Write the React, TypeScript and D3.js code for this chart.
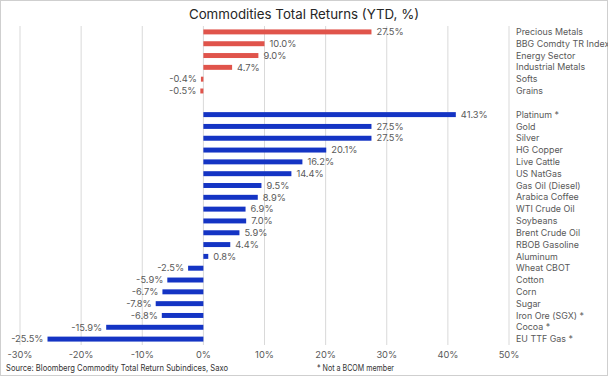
import React from "react";
import * as d3 from "d3";

const topCategories = ["Precious Metals", "BBG Comdty TR Index", "Energy Sector", "Industrial Metals", "Softs", "Grains"];
const topValues = [27.5, 10.0, 9.0, 4.7, -0.4, -0.5];

const commodityCategories = [
  "Platinum *", "Gold", "Silver", "HG Copper", "Live Cattle", "US NatGas", "Gas Oil (Diesel)",
  "Arabica Coffee", "WTI Crude Oil", "Soybeans", "Brent Crude Oil", "RBOB Gasoline", "Aluminum",
  "Wheat CBOT", "Cotton", "Corn", "Sugar", "Iron Ore (SGX) *", "Cocoa *", "EU TTF Gas *",
];
const commodityValues = [41.3, 27.5, 27.5, 20.1, 16.2, 14.4, 9.5, 8.9, 6.9, 7.0, 5.9, 4.4, 0.8, -2.5, -5.9, -6.7, -7.8, -6.8, -15.9, -25.5];

const xTicks = [-30, -20, -10, 0, 10, 20, 30, 40, 50];

const title = "Commodities Total Returns (YTD, %)";
const sourceText = "Source: Bloomberg Commodity Total Return Subindices, Saxo";
const noteText = "* Not a BCOM member";

const W = 608;
const H = 376;
const FONT = "Inter, 'Open Sans', sans-serif";

export default function App() {
  const spacer = "__gap__";
  const domain = [...topCategories, spacer, ...commodityCategories];
  const x = d3.scaleLinear().domain([-30, 50]).range([20, 509]);
  const y = d3.scaleBand<string>().domain(domain).range([26, 345]).paddingInner(0.58).paddingOuter(0.29);

  const rows = [
    ...topCategories.map((c, i) => ({ c, v: topValues[i], color: "#e0544b" })),
    ...commodityCategories.map((c, i) => ({ c, v: commodityValues[i], color: "#1434c4" })),
  ];
  const fmt = (v: number) => `${v.toFixed(1)}%`;

  return (
    <svg width={W} height={H} style={{ position: "absolute", left: 0, top: 0, display: "block" }} fontFamily={FONT}>
      <rect x={0} y={0} width={W} height={H} fill="#ffffff" />
      <rect x={0.5} y={0.5} width={W - 1} height={H - 1} fill="none" stroke="#cfcfcf" />
      <text x={304} y={19} textAnchor="middle" fontSize={13.3} fill="#262626">{title}</text>
      {xTicks.map((t) => (
        <g key={t}>
          <line x1={x(t)} x2={x(t)} y1={26} y2={345} stroke="#d9d9d9" strokeWidth={1} />
          <text x={x(t)} y={358} textAnchor="middle" fontSize={9.3} fill="#595959">{`${t}%`}</text>
        </g>
      ))}
      {rows.map((r) => {
        const yy = y(r.c)!;
        const bh = y.bandwidth();
        const x0 = x(Math.min(0, r.v));
        const x1 = x(Math.max(0, r.v));
        const cy = yy + bh / 2;
        return (
          <g key={r.c}>
            <rect x={x0} y={yy} width={Math.max(1.5, x1 - x0)} height={bh} fill={r.color} />
            <text
              x={r.v >= 0 ? x1 + 5 : x0 - 4}
              y={cy}
              dy="0.35em"
              textAnchor={r.v >= 0 ? "start" : "end"}
              fontSize={9.3}
              fill="#595959"
            >
              {fmt(r.v)}
            </text>
            <text x={516} y={cy} dy="0.35em" fontSize={8.9} fill="#595959">{r.c}</text>
          </g>
        );
      })}
      <text x={6} y={371} fontSize={9} fill="#333333" textLength={222} lengthAdjust="spacingAndGlyphs">{sourceText}</text>
      <text x={317} y={371} fontSize={9} fill="#333333" textLength={77} lengthAdjust="spacingAndGlyphs">{noteText}</text>
    </svg>
  );
}
